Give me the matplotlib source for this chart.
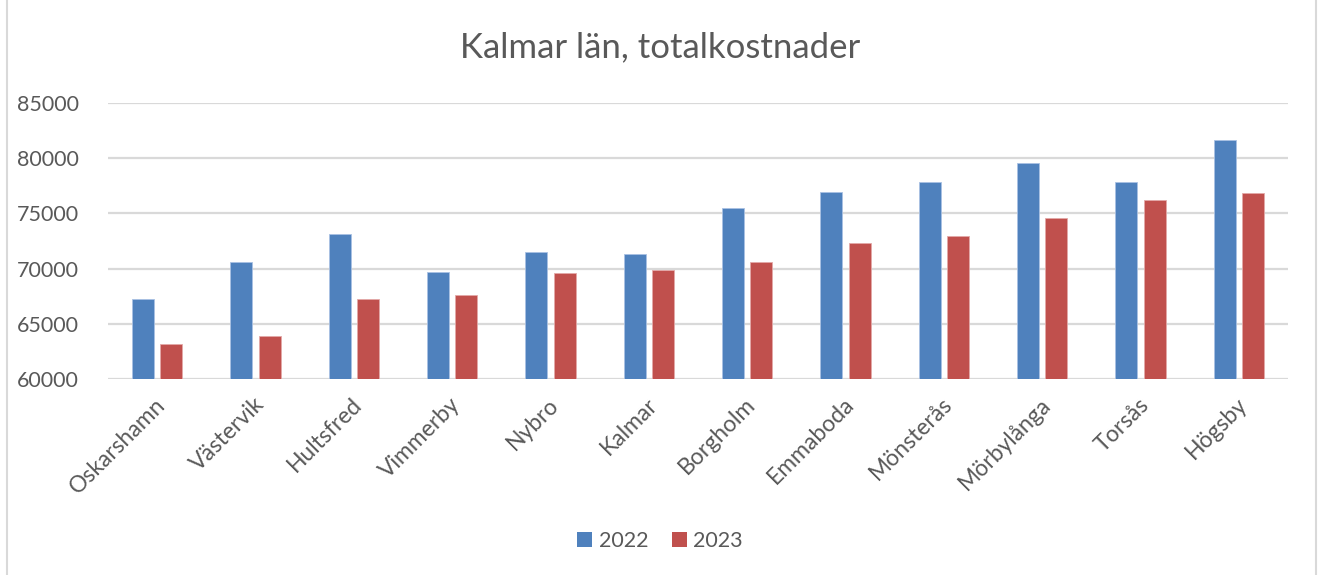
import numpy as np
import matplotlib.pyplot as plt
import matplotlib.transforms as mtransforms
from matplotlib.patches import Rectangle, Patch

# Data
KOMMUNER = ['Oskarshamn', 'Västervik', 'Hultsfred', 'Vimmerby', 'Nybro', 'Kalmar',
            'Borgholm', 'Emmaboda', 'Mönsterås', 'Mörbylånga', 'Torsås', 'Högsby']
KOSTNAD_2022 = [67290, 70630, 73100, 69670, 71480, 71360,
                75450, 76930, 77800, 79610, 77830, 81690]
KOSTNAD_2023 = [63160, 63920, 67230, 67590, 69610, 69850,
                70630, 72350, 72980, 74550, 76200, 76810]
Y_TICKS = [60000, 65000, 70000, 75000, 80000, 85000]

BLUE = '#4f81bd'
RED = '#c0504d'
TEXT = '#595959'
GRID = '#d9d9d9'

plt.rcParams['font.family'] = ['Lato', 'DejaVu Sans']

fig = plt.figure(figsize=(13.2, 5.75), dpi=100)
fig.patch.set_facecolor('white')
ax = fig.add_axes([108 / 1320, 1 - 379 / 575, 1180 / 1320, 276 / 575])

x = np.arange(len(KOMMUNER))
width = 0.224
ax.bar(x - 0.145, np.array(KOSTNAD_2022) - Y_TICKS[0], width, bottom=Y_TICKS[0],
       color=BLUE, edgecolor='#a9c1e3', linewidth=0.6, zorder=3)
ax.bar(x + 0.145, np.array(KOSTNAD_2023) - Y_TICKS[0], width, bottom=Y_TICKS[0],
       color=RED, edgecolor='#e3a9a8', linewidth=0.6, zorder=3)

ax.set_xlim(-0.5, len(KOMMUNER) - 0.5)
ax.set_ylim(Y_TICKS[0], Y_TICKS[-1])
ax.set_yticks(Y_TICKS)
ax.set_yticklabels([str(t) for t in Y_TICKS], color=TEXT, fontsize=15.5)
ax.set_xticks(x)
ax.set_xticklabels(KOMMUNER, rotation=45, ha='right', va='center',
                   rotation_mode='anchor', color=TEXT, fontsize=16.5)
ax.tick_params(axis='y', length=0, pad=21)
ax.tick_params(axis='x', length=0, pad=16)
# nudge rotated labels a little to the right, as in the reference
shift = mtransforms.ScaledTranslation(5 / 100, 0, fig.dpi_scale_trans)
for lbl in ax.get_xticklabels():
    lbl.set_transform(lbl.get_transform() + shift)
ax.grid(axis='y', color=GRID, linewidth=1.6, zorder=0)
for spine in ax.spines.values():
    spine.set_visible(False)

fig.text(0.5, 1 - 47 / 575, 'Kalmar län, totalkostnader', ha='center', va='center',
         color=TEXT, fontsize=25)

handles = [Patch(facecolor=BLUE, label='2022'), Patch(facecolor=RED, label='2023')]
fig.legend(handles=handles, loc='center', bbox_to_anchor=(0.5, 1 - 541 / 575), ncol=2,
           frameon=False, fontsize=15.5, labelcolor=TEXT, handlelength=0.7,
           handleheight=0.7, handletextpad=0.3, columnspacing=1.1)

# light chart-area border like the spreadsheet frame
fig.patches.append(Rectangle((7 / 1320, -0.01), 1309 / 1320, 1.02, transform=fig.transFigure,
                             fill=False, edgecolor=GRID, linewidth=1.5))

fig.savefig('out.png', dpi=100, facecolor='white')
